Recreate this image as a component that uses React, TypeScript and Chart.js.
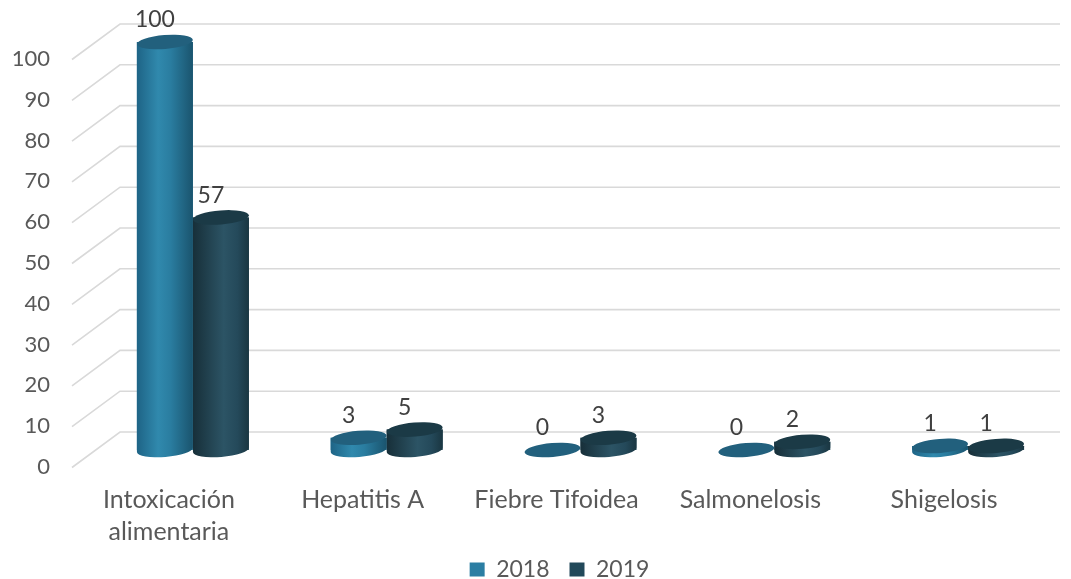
import React, { useEffect, useRef } from "react";
import { Chart, registerables } from "chart.js";

Chart.register(...registerables);

const categories: (string | string[])[] = [
  ["Intoxicación", "alimentaria"],
  "Hepatitis A",
  "Fiebre Tifoidea",
  "Salmonelosis",
  "Shigelosis",
];
const seriesNames = ["2018", "2019"];
const values2018 = [100, 3, 0, 0, 1];
const values2019 = [57, 5, 3, 2, 1];
const yTicks = [0, 10, 20, 30, 40, 50, 60, 70, 80, 90, 100];

const FONT = "Lato, 'Open Sans', sans-serif";

const bodyStops = [
  [
    [0, "#1E6486"],
    [0.38, "#3089AD"],
    [0.6, "#2A7DA0"],
    [1, "#1A546E"],
  ],
  [
    [0, "#172F39"],
    [0.55, "#2C5465"],
    [0.8, "#24495A"],
    [1, "#1A3641"],
  ],
];
const capColors = ["#22607D", "#1B3A46"];
const legendColors = ["#2B7EA3", "#22495A"];

const FRONT = 17.5;
const BACK = -18;
const DEPTH_X = 24;
const RY = 7;
const ROT = -0.08;

const gridPlugin = {
  id: "grid3d",
  beforeDatasetsDraw(chart: any) {
    const { ctx, chartArea } = chart;
    const y = chart.scales.y;
    ctx.save();
    ctx.strokeStyle = "#D9D9D9";
    ctx.lineWidth = 1.6;
    for (const t of y.ticks) {
      const py = y.getPixelForValue(t.value);
      ctx.beginPath();
      ctx.moveTo(chartArea.left - DEPTH_X, py + FRONT);
      ctx.lineTo(chartArea.left + DEPTH_X, py + BACK);
      ctx.lineTo(chartArea.right - 5, py + BACK);
      ctx.stroke();
    }
    ctx.restore();
  },
};

const legendShiftPlugin = {
  id: "legendShift",
  afterLayout(chart: any) {
    const lg = chart.legend;
    if (!lg) return;
    lg.left += 27;
    lg.right += 27;
    lg.top -= 10;
    lg.bottom -= 10;
  },
};

const cylinderPlugin = {
  id: "cyl",
  afterDatasetsDraw(chart: any) {
    const { ctx } = chart;
    chart.data.datasets.forEach((ds: any, di: number) => {
      const meta = chart.getDatasetMeta(di);
      meta.data.forEach((bar: any, i: number) => {
        const { x, y, base, width } = bar.getProps(["x", "y", "base", "width"], true);
        const rx = width / 2;
        const l = x - rx;
        const r = x + rx;
        ctx.save();
        if (base - y > 0.5) {
          const g = ctx.createLinearGradient(l, 0, r, 0);
          for (const [o, c] of bodyStops[di]) g.addColorStop(o as number, c as string);
          ctx.fillStyle = g;
          ctx.beginPath();
          ctx.moveTo(l, y);
          ctx.lineTo(l, base);
          ctx.ellipse(x, base, rx, RY, ROT, Math.PI, 0, true);
          ctx.lineTo(r, y);
          ctx.closePath();
          ctx.fill();
        }
        ctx.fillStyle = capColors[di];
        ctx.beginPath();
        ctx.ellipse(x, y, rx, RY, ROT, 0, Math.PI * 2);
        ctx.fill();
        ctx.restore();
        ctx.save();
        ctx.fillStyle = "#404040";
        ctx.font = `23px ${FONT}`;
        ctx.textAlign = "center";
        ctx.textBaseline = "middle";
        ctx.fillText(String(ds.data[i]), x - 10, y - 22);
        ctx.restore();
      });
    });
  },
};

export default function App() {
  const ref = useRef<HTMLCanvasElement>(null);
  useEffect(() => {
    if (!ref.current) return;
    const chart = new Chart(ref.current, {
      type: "bar",
      data: {
        labels: categories,
        datasets: [
          { label: seriesNames[0], data: values2018, backgroundColor: legendColors[0], borderWidth: 0 },
          { label: seriesNames[1], data: values2019, backgroundColor: legendColors[1], borderWidth: 0 },
        ],
      },
      options: {
        animation: false,
        responsive: false,
        maintainAspectRatio: false,
        layout: { padding: { top: 42, right: 6, left: 0, bottom: 0 } },
        datasets: { bar: { categoryPercentage: 0.578, barPercentage: 1 } },
        plugins: {
          tooltip: { enabled: false },
          legend: {
            position: "bottom",
            labels: {
              boxWidth: 15,
              boxHeight: 14,
              padding: 20,
              color: "#595959",
              font: { family: FONT, size: 23 },
            },
          },
        },
        scales: {
          x: {
            grid: { display: false, drawTicks: false },
            border: { display: false },
            ticks: {
              color: "#595959",
              font: { family: FONT, size: 25, lineHeight: 1.28 },
              labelOffset: -24,
              padding: 34,
              maxRotation: 0,
              autoSkip: false,
            },
            afterFit(scale: any) {
              scale.height = 98;
              scale.paddingLeft = 0;
              scale.paddingRight = 0;
            },
          },
          y: {
            min: 0,
            max: 100,
            afterBuildTicks(scale: any) {
              scale.ticks = yTicks.map((v) => ({ value: v }));
            },
            grid: { display: false, drawTicks: false },
            border: { display: false },
            ticks: {
              color: "#595959",
              font: { family: FONT, size: 22 },
              labelOffset: 17,
              padding: 46,
            },
            afterFit(scale: any) {
              scale.width = 96;
              scale.paddingTop = 0;
              scale.paddingBottom = 0;
            },
          },
        },
      },
      plugins: [gridPlugin, cylinderPlugin, legendShiftPlugin],
    });
    return () => chart.destroy();
  }, []);
  return (
    <div style={{ position: "fixed", left: 0, top: 0, width: 1071, height: 579, overflow: "hidden", background: "#fff" }}>
      <canvas ref={ref} width={1071} height={601} style={{ width: 1071, height: 601, display: "block" }} />
    </div>
  );
}
